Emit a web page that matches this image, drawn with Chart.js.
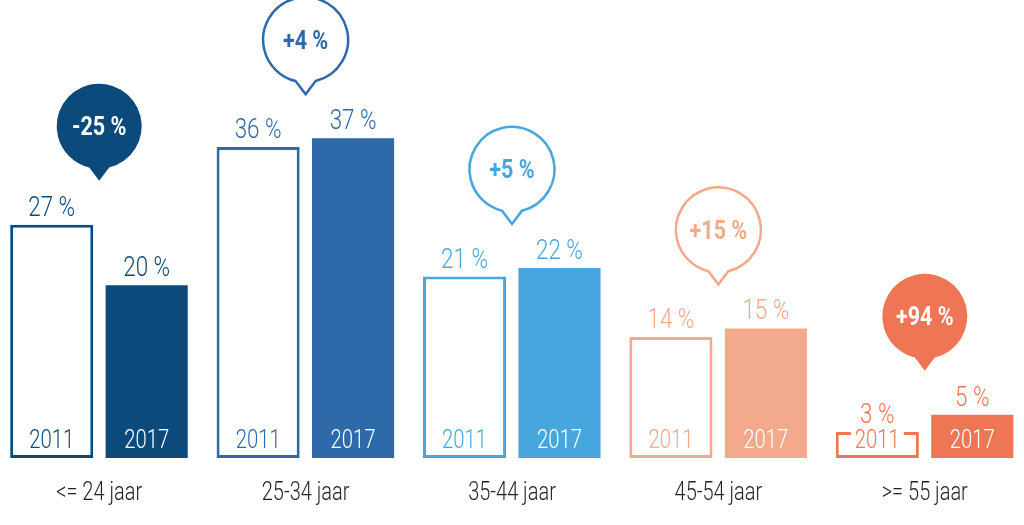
<!DOCTYPE html>
<html>
<head>
<meta charset="utf-8">
<script src="https://cdn.jsdelivr.net/npm/chart.js@4.4.0/dist/chart.umd.min.js"></script>
<style>
  html, body { margin: 0; padding: 0; background: #ffffff; overflow: hidden; }
  #wrap { position: absolute; left: -4px; top: 0; width: 1032px; height: 525px; }
</style>
</head>
<body>
<div id="wrap"><canvas id="c" width="1032" height="525"></canvas></div>
<script>
const categories = ['<= 24 jaar', '25-34 jaar', '35-44 jaar', '45-54 jaar', '>= 55 jaar'];
const seriesNames = ['2011', '2017'];
const values2011 = [27, 36, 21, 14, 3];
const values2017 = [20, 37, 22, 15, 5];
const changeLabels = ['-25 %', '+4 %', '+5 %', '+15 %', '+94 %'];
const groupColors = ['#0c4a7b', '#2e69a9', '#47a6dd', '#f3a98c', '#ef7655'];
const bubbleFilled = [true, false, false, false, true];

const FONT = 'Roboto, "Liberation Sans", sans-serif';

function drawText(ctx, txt, x, y, font, color, sx) {
  ctx.save();
  ctx.font = font;
  ctx.fillStyle = color;
  ctx.textAlign = 'center';
  ctx.translate(x, y);
  ctx.scale(sx, 1);
  ctx.fillText(txt, 0, 0);
  ctx.restore();
}

const labelPlugin = {
  id: 'labelPlugin',
  afterDatasetsDraw(chart) {
    const ctx = chart.ctx;
    const xs = chart.scales.x;
    ctx.save();
    ctx.textBaseline = 'alphabetic';
    categories.forEach((cat, i) => {
      const col = groupColors[i];
      let topMost = Infinity;
      [0, 1].forEach(d => {
        const el = chart.getDatasetMeta(d).data[i];
        const val = chart.data.datasets[d].data[i];
        topMost = Math.min(topMost, el.y);
        drawText(ctx, val + ' %', el.x, el.y - 9, '300 28px ' + FONT, col, 0.8);
        const yearTxt = seriesNames[d];
        const baseY = el.base - 10;
        const yf = '300 26px ' + FONT;
        if (d === 0) {
          ctx.font = yf;
          const w = ctx.measureText(yearTxt).width * 0.78;
          ctx.fillStyle = '#ffffff';
          ctx.fillRect(el.x - w / 2 - 4, baseY - 21, w + 8, 23);
          drawText(ctx, yearTxt, el.x, baseY, yf, col, 0.78);
        } else {
          drawText(ctx, yearTxt, el.x, baseY, yf, '#ffffff', 0.78);
        }
      });
      const cx = xs.getPixelForValue(i);
      drawText(ctx, cat, cx, 500, '300 25px ' + FONT, '#231f20', 0.8);
      // bubble
      const r = 42.5;
      const tipY = topMost - 44;
      const cy = tipY - 12 - r;
      const a = Math.asin(10 / r);
      ctx.beginPath();
      ctx.moveTo(cx, tipY);
      ctx.lineTo(cx + r * Math.cos(Math.PI / 2 - a), cy + r * Math.sin(Math.PI / 2 - a));
      ctx.arc(cx, cy, r, Math.PI / 2 - a, Math.PI / 2 + a, true);
      ctx.closePath();
      if (bubbleFilled[i]) {
        ctx.fillStyle = col;
        ctx.fill();
      } else {
        ctx.fillStyle = '#ffffff';
        ctx.fill();
        ctx.lineWidth = 2.5;
        ctx.lineJoin = 'miter';
        ctx.strokeStyle = col;
        ctx.stroke();
      }
      drawText(ctx, changeLabels[i], cx, cy + 9, 'bold 25px ' + FONT, bubbleFilled[i] ? '#ffffff' : col, 0.86);
    });
    ctx.restore();
  }
};

new Chart(document.getElementById('c'), {
  type: 'bar',
  data: {
    labels: categories,
    datasets: [
      {
        label: seriesNames[0],
        data: values2011,
        backgroundColor: '#ffffff',
        borderColor: groupColors,
        borderWidth: 3,
        borderSkipped: false,
        categoryPercentage: 0.92,
        barPercentage: 0.875
      },
      {
        label: seriesNames[1],
        data: values2017,
        backgroundColor: groupColors,
        borderWidth: 0,
        categoryPercentage: 0.92,
        barPercentage: 0.865
      }
    ]
  },
  options: {
    responsive: false,
    devicePixelRatio: 1,
    animation: false,
    layout: { padding: { top: 0, bottom: 67, left: 0, right: 0 } },
    plugins: { legend: { display: false }, tooltip: { enabled: false } },
    scales: {
      x: { display: false },
      y: { display: false, min: 0, max: 53 }
    }
  },
  plugins: [labelPlugin]
});
</script>
</body>
</html>
